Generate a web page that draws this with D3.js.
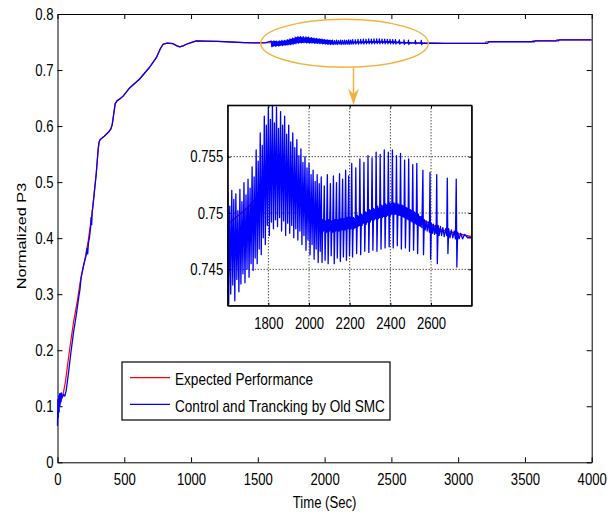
<!DOCTYPE html>
<html><head><meta charset="utf-8">
<script src="https://cdn.jsdelivr.net/npm/d3@7"></script>
<style>
body{margin:0;background:#fff}
svg{display:block}
text{font-family:"Liberation Sans",Arial,Helvetica,sans-serif;fill:#000}
</style>
</head><body>
<svg id="c" width="611" height="513"></svg>
<script>
// ---------------- data ----------------
const xTicks = [0, 500, 1000, 1500, 2000, 2500, 3000, 3500, 4000];
const yTicks = [0, 0.1, 0.2, 0.3, 0.4, 0.5, 0.6, 0.7, 0.8];
const yTickLabels = ["0", "0.1", "0.2", "0.3", "0.4", "0.5", "0.6", "0.7", "0.8"];
const insetXTicks = [1800, 2000, 2200, 2400, 2600];
const insetYTicks = [0.745, 0.75, 0.755];
const insetYTickLabels = ["0.745", "0.75", "0.755"];
const seriesNames = ["Expected Performance", "Control and Trancking by Old SMC"];
const xLabel = "Time (Sec)";
const yLabel = "Normalized P3";

const expectedPoints = [[0,.100],[15,.103],[40,.118],[60,.145],[90,.200],[120,.250],[150,.290],[170,.322],[200,.355],[230,.395],[260,.447],[290,.515],[305,.560],[312,.572],[320,.576],[350,.582],[385,.590],[400,.595],[410,.603],[420,.620],[432,.640],[445,.645],[470,.649],[490,.653],[540,.668],[615,.684],[690,.705],[740,.722],[770,.738],[790,.746],[820,.748],[865,.747],[895,.743],[915,.7415],[940,.743],[965,.746],[1000,.749],[1040,.752],[1100,.7515],[1200,.751],[1300,.750],[1400,.749],[1500,.7485],[1600,.7490],[1700,.7505],[1800,.7525],[1880,.7527],[1950,.7510],[2050,.7488],[2120,.7487],[2200,.7492],[2300,.7500],[2400,.7505],[2480,.7503],[2550,.7495],[2650,.7485],[2750,.7481],[2800,.7479],[2900,.7477],[3000,.7476],[3200,.7476],[3210,.7505],[3550,.7505],[3560,.752],[3730,.752],[3740,.754],[4000,.754]];

const trackingEarly = [[0,.065],[3,.112],[6,.080],[9,.118],[12,.090],[15,.122],[18,.100],[22,.123],[26,.108],[30,.124],[36,.116],[45,.121],[55,.118],[65,.128],[80,.155],[100,.195],[120,.232],[140,.262],[160,.296],[168,.308],[178,.332],[195,.352],[215,.370],[222,.382],[226,.372],[232,.392],[240,.402],[248,.420],[252,.437],[256,.424],[260,.448],[265,.456],[275,.480],[290,.515],[305,.560],[312,.572],[320,.576],[350,.582],[385,.590],[400,.595],[410,.603],[420,.620],[432,.640],[445,.645],[470,.649],[490,.653],[540,.668],[615,.684],[690,.705],[740,.722],[770,.738],[790,.746],[820,.748],[865,.747],[895,.743],[915,.7415],[940,.743],[965,.746],[1000,.749],[1040,.752],[1100,.7515],[1200,.751],[1300,.750],[1400,.749],[1500,.7485],[1560,.7488]];

const trackingOscillation = [
[1600,.7518],[1605,.7419],[1610,.7506],[1615,.7428],[1620,.7520],[1625,.7436],[1630,.7512],[1635,.7422],
[1640,.7517],[1645,.7441],[1650,.7502],[1655,.7430],[1660,.7521],[1665,.7437],[1670,.7510],[1675,.7446],
[1680,.7527],[1685,.7438],[1690,.7516],[1695,.7450],[1700,.7530],[1705,.7443],[1710,.7522],[1715,.7455],
[1720,.7541],[1725,.7449],[1730,.7532],[1735,.7460],[1740,.7556],[1745,.7455],[1750,.7546],[1755,.7468],
[1760,.7571],[1765,.7463],[1770,.7560],[1775,.7478],[1780,.7586],[1785,.7472],[1790,.7578],[1795,.7489],
[1800,.7594],[1805,.7480],[1810,.7583],[1815,.7492],[1820,.7596],[1825,.7486],[1830,.7580],[1835,.7494],
[1840,.7594],[1845,.7488],[1850,.7575],[1855,.7496],[1860,.7590],[1865,.7484],[1870,.7578],[1875,.7493],
[1880,.7586],[1885,.7480],[1890,.7570],[1895,.7491],[1900,.7578],[1905,.7482],[1910,.7563],[1915,.7489],
[1920,.7571],[1925,.7478],[1930,.7558],[1935,.7486],[1940,.7565],[1945,.7476],[1950,.7551],[1955,.7484],
[1960,.7557],[1965,.7472],[1970,.7545],[1975,.7480],[1980,.7550],[1985,.7467],[1990,.7540],[1995,.7476],
[2000,.7544],[2005,.7463],[2010,.7534],[2015,.7472],[2020,.7538],[2025,.7459],[2030,.7528],[2035,.7468],
[2040,.7534],[2045,.7456],[2050,.7526],[2055,.7466],
[2060,.7532],[2064,.7456],[2068,.7494],[2071,.7484],[2075,.7524],[2079,.7458],[2083,.7493],[2086,.7483],
[2090,.7534],[2094,.7455],[2098,.7494],[2101,.7484],[2105,.7526],[2109,.7462],[2113,.7493],[2116,.7483],
[2120,.7533],[2124,.7455],[2128,.7494],[2131,.7484],[2135,.7527],[2139,.7460],[2143,.7494],[2146,.7484],
[2150,.7535],[2154,.7457],[2158,.7495],[2161,.7485],[2165,.7530],[2169,.7461],[2173,.7495],[2176,.7485],
[2180,.7538],[2184,.7458],[2188,.7496],[2191,.7486],[2195,.7533],[2199,.7462],[2203,.7496],[2206,.7486],
[2210,.7544],[2214,.7461],[2218,.7496],[2221,.7486],[2224,.7495],[2227,.7487],
[2230,.7540],[2234,.7464],[2238,.7498],[2241,.7488],[2244,.7497],[2247,.7489],
[2250,.7548],[2254,.7463],[2258,.7499],[2261,.7489],[2264,.7498],[2267,.7491],
[2270,.7545],[2274,.7466],[2278,.7501],[2281,.7490],[2284,.7500],[2287,.7492],
[2290,.7551],[2294,.7465],[2298,.7503],[2301,.7492],[2304,.7502],[2307,.7494],
[2310,.7549],[2314,.7467],[2318,.7504],[2321,.7494],[2324,.7503],[2327,.7495],
[2330,.7554],[2334,.7466],[2338,.7506],[2341,.7495],[2344,.7504],[2347,.7496],
[2350,.7552],[2354,.7468],[2358,.7507],[2361,.7496],[2364,.7506],[2367,.7497],
[2370,.7556],[2374,.7469],[2378,.7508],[2381,.7497],[2384,.7507],[2387,.7498],
[2390,.7554],[2394,.7470],[2398,.7509],[2401,.7498],[2404,.7508],[2407,.7499],
[2410,.7556],[2414,.7469],[2418,.7509],[2421,.7499],[2424,.7508],[2427,.7499],
[2430,.7551],[2434,.7471],[2438,.7508],[2441,.7498],[2444,.7507],[2447,.7498],
[2450,.7553],[2454,.7468],[2458,.7507],[2461,.7497],[2464,.7506],[2467,.7496],
[2470,.7547],[2474,.7469],[2478,.7505],[2481,.7495],[2484,.7504],[2487,.7494],
[2490,.7548],[2494,.7466],[2498,.7503],[2501,.7493],[2504,.7502],[2507,.7492],
[2510,.7543],[2514,.7467],[2518,.7501],[2521,.7491],[2524,.7500],[2527,.7490],
[2530,.7544],[2534,.7464],[2538,.7499],[2541,.7489],[2544,.7497],[2547,.7488],
[2551,.7497],[2555,.7487],[2560,.7538],[2563,.7463],[2567,.7494],[2571,.7485],[2576,.7493],[2581,.7484],[2586,.7492],
[2592,.7483],[2595,.7536],[2598,.7459],[2602,.7491],[2607,.7482],[2612,.7490],[2617,.7481],[2622,.7489],
[2625,.7482],[2628,.7534],[2631,.7455],[2635,.7489],[2640,.7480],[2646,.7488],[2652,.7480],[2658,.7487],[2665,.7479],[2672,.7486],
[2677,.7480],[2680,.7531],[2683,.7464],[2687,.7486],[2693,.7478],[2700,.7485],[2707,.7478],[2714,.7484],
[2720,.7477],[2724,.7530],[2727,.7452],[2731,.7483],[2738,.7477],[2746,.7482],[2755,.7477],[2765,.7481],[2780,.7478],[2800,.7478]];

const trackingLate = [[2900,.7477],[3000,.7476],[3220,.7476],[3230,.7505],[3570,.7505],[3580,.752],[3750,.752],[3760,.754],[4000,.754]];

const trackingPoints = trackingEarly.concat(trackingOscillation, trackingLate);

// ---------------- drawing ----------------
const svg = d3.select("#c");
const FS = 16, SX = 0.82;
const RED = "#ff0000", BLUE = "#0000ff", ORANGE = "#f2b33d";

const M = {left: 57.5, right: 591.7, top: 14, bottom: 462.3};
const x = d3.scaleLinear().domain([0, 4000]).range([M.left, M.right]);
const y = d3.scaleLinear().domain([0, 0.8]).range([M.bottom, M.top]);

function condense(sel) {
  sel.each(function () {
    const t = d3.select(this);
    const xv = +t.attr("x") || 0;
    t.attr("x", xv / SX).attr("transform", `scale(${SX},1)`);
  });
}
function styleAxis(g) {
  g.selectAll("path").attr("stroke", "#000").attr("stroke-width", 1);
  g.selectAll("line").attr("stroke", "#000").attr("stroke-width", 1);
  g.selectAll("text").attr("font-size", FS).attr("fill", "#000")
    .attr("font-family", '"Liberation Sans",Arial,sans-serif');
}

// main axes
const gB = svg.append("g").attr("transform", `translate(0,${M.bottom})`)
  .call(d3.axisBottom(x).tickValues(xTicks).tickFormat(d3.format("d")).tickSize(-5).tickSizeOuter(0).tickPadding(11));
styleAxis(gB); gB.selectAll("text").call(condense);
const gT = svg.append("g").attr("transform", `translate(0,${M.top})`)
  .call(d3.axisTop(x).tickValues(xTicks).tickFormat("").tickSize(-5).tickSizeOuter(0));
styleAxis(gT);
const gL = svg.append("g").attr("transform", `translate(${M.left},0)`)
  .call(d3.axisLeft(y).tickValues(yTicks).tickFormat((d, i) => yTickLabels[i]).tickSize(-5).tickSizeOuter(0).tickPadding(4));
styleAxis(gL); gL.selectAll("text").call(condense);
const gR = svg.append("g").attr("transform", `translate(${M.right},0)`)
  .call(d3.axisRight(y).tickValues(yTicks).tickFormat("").tickSize(-5).tickSizeOuter(0));
styleAxis(gR);

// axis titles
svg.append("text").attr("transform", `translate(${(M.left + M.right) / 2},508) scale(${SX},1)`)
  .attr("text-anchor", "middle").attr("font-size", FS).text(xLabel);
svg.append("text").attr("transform", `translate(25.5,236) rotate(-90) scale(1.25,1)`)
  .attr("text-anchor", "middle").attr("font-size", 13).text(yLabel);

// main lines
const lineMain = d3.line().x(d => x(d[0])).y(d => y(d[1]));
svg.append("path").datum(expectedPoints).attr("d", lineMain)
  .attr("fill", "none").attr("stroke", RED).attr("stroke-width", 1.2);
svg.append("path").datum(trackingPoints).attr("d", lineMain)
  .attr("fill", "none").attr("stroke", BLUE).attr("stroke-width", 1.3).attr("stroke-linejoin", "round");

// ellipse + arrow
svg.append("ellipse").attr("cx", 344.5).attr("cy", 43.3).attr("rx", 83.8).attr("ry", 24)
  .attr("fill", "none").attr("stroke", ORANGE).attr("stroke-width", 1.4);
svg.append("line").attr("x1", 353.5).attr("y1", 67.3).attr("x2", 353.5).attr("y2", 96)
  .attr("stroke", ORANGE).attr("stroke-width", 1.5);
svg.append("path").attr("d", "M353.5,105 L348,88.5 L353.5,94 L359,88.5 Z").attr("fill", ORANGE);

// inset
const I = {left: 227.7, right: 471.7, top: 105.3, bottom: 305.7};
const xi = d3.scaleLinear().domain([1600, 2800]).range([I.left, I.right]);
const yi = d3.scaleLinear().domain([0.74177, 0.75956]).range([I.bottom, I.top]);
svg.append("rect").attr("x", I.left).attr("y", I.top).attr("width", I.right - I.left).attr("height", I.bottom - I.top)
  .attr("fill", "#fff");
const grid = svg.append("g");
grid.selectAll("line.gx").data(insetXTicks).join("line")
  .attr("x1", d => xi(d)).attr("x2", d => xi(d)).attr("y1", I.top).attr("y2", I.bottom)
  .attr("stroke", "#000").attr("stroke-width", 1).attr("stroke-dasharray", "1,2");
grid.selectAll("line.gy").data(insetYTicks).join("line")
  .attr("y1", d => yi(d)).attr("y2", d => yi(d)).attr("x1", I.left).attr("x2", I.right)
  .attr("stroke", "#000").attr("stroke-width", 1).attr("stroke-dasharray", "1,2");

svg.append("clipPath").attr("id", "ic").append("rect")
  .attr("x", I.left).attr("y", I.top).attr("width", I.right - I.left).attr("height", I.bottom - I.top);
const lineInset = d3.line().x(d => xi(d[0])).y(d => yi(d[1]));
const ig = svg.append("g").attr("clip-path", "url(#ic)");
ig.append("path").datum(expectedPoints).attr("d", lineInset)
  .attr("fill", "none").attr("stroke", RED).attr("stroke-width", 1.5);
ig.append("path").datum(trackingPoints).attr("d", lineInset)
  .attr("fill", "none").attr("stroke", BLUE).attr("stroke-width", 1.3).attr("stroke-linejoin", "round");

const iB = svg.append("g").attr("transform", `translate(0,${I.bottom})`)
  .call(d3.axisBottom(xi).tickValues(insetXTicks).tickFormat(d3.format("d")).tickSize(-3).tickSizeOuter(0).tickPadding(12));
styleAxis(iB); iB.selectAll("text").call(condense);
const iT = svg.append("g").attr("transform", `translate(0,${I.top})`)
  .call(d3.axisTop(xi).tickValues(insetXTicks).tickFormat("").tickSize(-3).tickSizeOuter(0));
styleAxis(iT);
const iL = svg.append("g").attr("transform", `translate(${I.left},0)`)
  .call(d3.axisLeft(yi).tickValues(insetYTicks).tickFormat((d, i) => insetYTickLabels[i]).tickSize(-3).tickSizeOuter(0).tickPadding(4.5));
styleAxis(iL); iL.selectAll("text").call(condense);
const iR = svg.append("g").attr("transform", `translate(${I.right},0)`)
  .call(d3.axisRight(yi).tickValues(insetYTicks).tickFormat("").tickSize(-3).tickSizeOuter(0));
styleAxis(iR);
svg.append("rect").attr("x", I.left).attr("y", I.top).attr("width", I.right - I.left).attr("height", I.bottom - I.top)
  .attr("fill", "none").attr("stroke", "#000").attr("stroke-width", 1.2);

// legend
const lg = svg.append("g");
lg.append("rect").attr("x", 122).attr("y", 362).attr("width", 268).attr("height", 58)
  .attr("fill", "#fff").attr("stroke", "#000").attr("stroke-width", 1.2);
const legendColors = [RED, BLUE];
seriesNames.forEach((name, i) => {
  const yy = 377.7 + i * 26.6;
  lg.append("line").attr("x1", 130).attr("x2", 170).attr("y1", yy).attr("y2", yy)
    .attr("stroke", legendColors[i]).attr("stroke-width", 1.3);
  lg.append("text").attr("transform", `translate(175,${yy + 7.3}) scale(0.85,1)`)
    .attr("font-size", FS).text(name);
});
</script>
</body></html>
